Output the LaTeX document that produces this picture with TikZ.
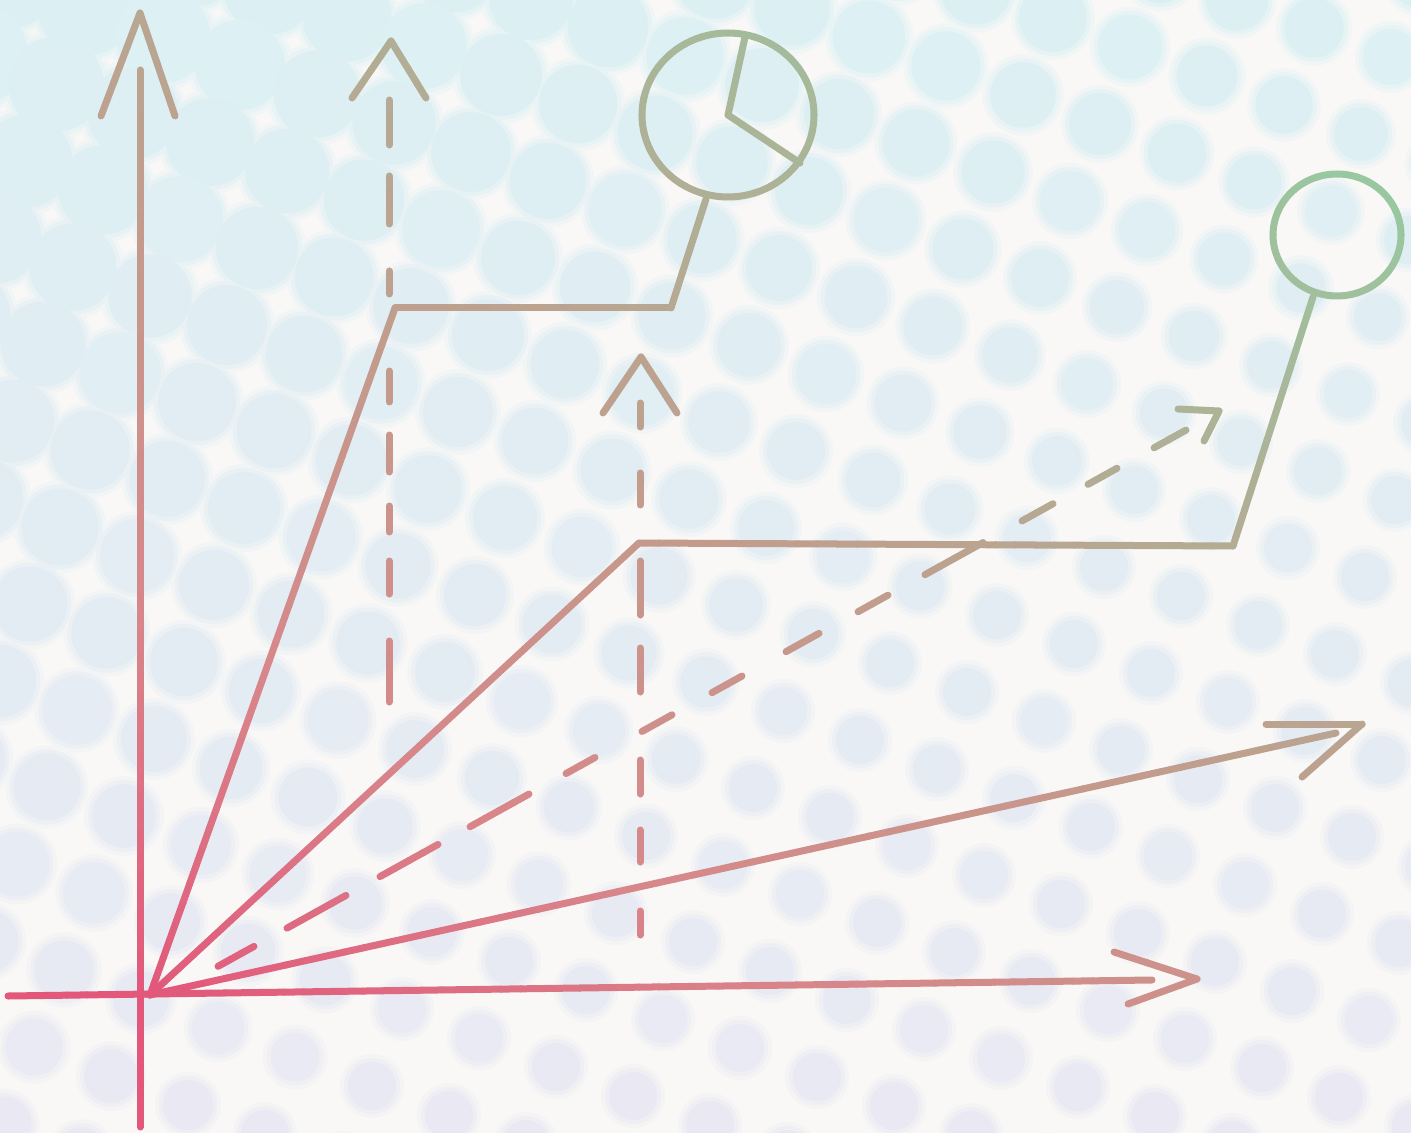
\documentclass[tikz,border=0pt]{standalone}
\usepackage{tikz}
\definecolor{paper}{HTML}{F9F8F6}
\definecolor{dotTop}{HTML}{DCF0F3}
\definecolor{dotBot}{HTML}{EAE9F3}
\definecolor{inkA}{HTML}{E2577A}
\definecolor{inkB}{HTML}{D8868A}
\definecolor{inkC}{HTML}{C49A8C}
\definecolor{inkD}{HTML}{AFB096}
\definecolor{inkE}{HTML}{98C8A0}
\tikzset{ink/.style={line width=3.5pt,line cap=round,line join=round}}
\newcommand{\inkcol}[2]{%
  \pgfmathsetmacro\inkt{max(0,min(0.999,(0.45*((#1)-148)+0.8*(995-(#2)))/1200))}%
  \pgfmathtruncatemacro\inkk{floor(\inkt*4)}%
  \pgfmathsetmacro\inkp{100*(\inkt*4-\inkk)}%
  \ifcase\inkk \colorlet{inkc}{inkB!\inkp!inkA}\or \colorlet{inkc}{inkC!\inkp!inkB}\or
  \colorlet{inkc}{inkD!\inkp!inkC}\else \colorlet{inkc}{inkE!\inkp!inkD}\fi}
\newcommand{\inkline}[4]{%
  \pgfmathsetmacro\inkl{10*veclen(((#3)-(#1))/10,((#4)-(#2))/10)}%
  \pgfmathtruncatemacro\inkn{max(1,ceil(\inkl/20))}%
  \foreach \k in {1,...,\inkn}{%
    \pgfmathsetmacro\ax{(#1)+((#3)-(#1))*((\k-1)/\inkn)}%
    \pgfmathsetmacro\ay{(#2)+((#4)-(#2))*((\k-1)/\inkn)}%
    \pgfmathsetmacro\bx{(#1)+((#3)-(#1))*(\k/\inkn)}%
    \pgfmathsetmacro\by{(#2)+((#4)-(#2))*(\k/\inkn)}%
    \inkcol{(\ax+\bx)/2}{(\ay+\by)/2}%
    \draw[ink,inkc] (\ax,\ay)--(\bx,\by);}}
\newcommand{\inkoval}[4]{%
  \foreach \a in {0,12,...,348}{%
    \pgfmathsetmacro\px{(#1)+(#3)*cos(\a)}%
    \pgfmathsetmacro\py{(#2)+(#4)*sin(\a)}%
    \inkcol{(#1)+(#3)*cos(\a+6)}{(#2)+(#4)*sin(\a+6)}%
    \draw[ink,inkc] (\px,\py) arc[start angle=\a,end angle=\a+12,x radius=#3,y radius=#4];}}

\begin{document}
\begin{tikzpicture}[x=0.5pt,y=-0.5pt]
\useasboundingbox (0,0) rectangle (1411,1133);
\begin{scope}
\clip (0,0) rectangle (1411,1133);
\fill[paper] (0,0) rectangle (1411,1133);
\foreach \grow/\mix in {7/30,3/65,-1/100}{
\foreach \i in {-15,...,8}{\foreach \j in {-14,...,8}{
  \pgfmathsetmacro\bgx{877+77*\i-30*\j}
  \pgfmathsetmacro\bgy{923+29*\i+77*\j}
  \pgfmathsetmacro\bgr{max(25,51-0.015*\bgx-0.02*\bgy)+\grow}
  \pgfmathsetmacro\bgp{max(0,min(100,\bgy/11.33))}
  \colorlet{dotc}{dotBot!\bgp!dotTop}
  \fill[dotc!\mix!paper] (\bgx,\bgy) circle[radius=\bgr];
}}}
\end{scope}
\inkline{140}{1127}{140}{70}
\inkline{101}{116}{140}{13}\inkline{140}{13}{175}{116}
\inkline{8}{996}{1152}{980}
\inkline{1114}{952}{1197}{979}\inkline{1197}{979}{1128}{1004}
\inkline{150}{995}{395}{308}\inkline{395}{308}{671}{308}\inkline{671}{308}{706}{199}
\inkoval{728}{115}{86}{82}
\inkline{745}{37}{728}{115}\inkline{728}{115}{800}{163}
\inkline{150}{995}{639}{543}\inkline{639}{543}{1233}{546}\inkline{1233}{546}{1313}{297}
\inkoval{1337}{235}{64}{61}
\inkline{150}{995}{1336}{733}
\inkline{1266}{724}{1362}{724}\inkline{1362}{724}{1302}{777}
\foreach \da/\db in {218/254,287/346,380/438,470/529,566/595,642/672,712/742,786/819,858/888,925/983,1022/1053,1088/1117,1154/1186}
  {\inkline{\da}{968-0.554*(\da-215)}{\db}{968-0.554*(\db-215)}}
\inkline{1178}{409}{1219}{411}\inkline{1219}{411}{1204}{441}
\foreach \da/\db in {100/145,176/224,271/294,371/402,435/472,506/532,561/594,641/702}
  {\inkline{389}{\da}{389}{\db}}
\inkline{352}{98}{391}{41}\inkline{391}{41}{426}{98}
\foreach \da/\db in {403/427,473/505,561/615,648/692,760/794,830/862,911/935}
  {\inkline{640}{\da}{640}{\db}}
\inkline{603}{413}{641}{357}\inkline{641}{357}{677}{413}
\end{tikzpicture}
\end{document}
